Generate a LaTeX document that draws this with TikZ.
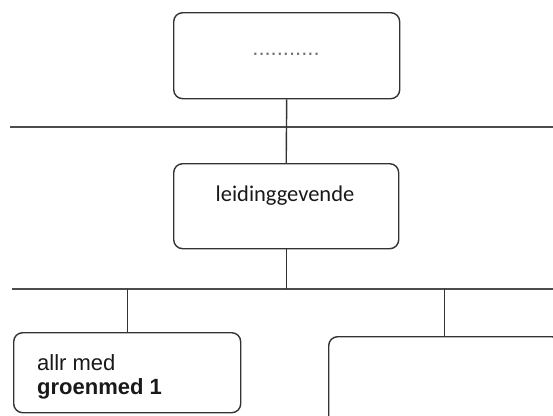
\documentclass[tikz,border=0pt]{standalone}
\usepackage{fontspec}
\setmainfont{Liberation Sans}
\newfontfamily\calib{Carlito}
\begin{document}
\begin{tikzpicture}[x=1pt,y=-1pt,
  box/.style={draw=black!80,line width=1.4pt,rounded corners=9pt,inner sep=0pt,anchor=north west},
  hline/.style={draw=black!70,line width=1.2pt},
  conn/.style={draw=black!80,line width=1.4pt},
  txt/.style={inner sep=0pt,text=black!90}]
\useasboundingbox (0,0) rectangle (553,415);
% boxes
\node[box,minimum width=226pt,minimum height=86pt] (top) at (173,12) {};
\node[box,minimum width=225pt,minimum height=85pt] (mid) at (173,163) {};
\node[box,minimum width=227pt,minimum height=80pt] (left) at (13,332) {};
\node[box,minimum width=232pt,minimum height=100pt] (right) at (328,336) {};
% texts
\node[txt,anchor=base,text=black!55,font=\fontsize{22}{26}\selectfont] (dots) at (286,55) {...........};
\node[txt,anchor=base,font=\calib\fontsize{22.5}{27}\selectfont] (lead) at (285,201) {leidinggevende};
\node[txt,anchor=base west,font=\fontsize{22}{26}\selectfont] (a1) at (37,370) {allr med};
\node[txt,anchor=base west,font=\bfseries\fontsize{22}{26}\selectfont] (a2) at (37,394) {groenmed 1};
% horizontal lines
\coordinate (l1a) at (10,127);
\coordinate (l1b) at (553,127);
\coordinate (l2a) at (12,289);
\coordinate (l2b) at (553,289);
\draw[hline] (l1a) -- (l1b);
\draw[hline] (l2a) -- (l2b);
% connectors
\draw[conn] (top.south) -- (mid.north);
\draw[conn] (mid.south) -- (mid.south |- l2a);
\draw[conn] (left.north |- l2a) -- (left.north);
\draw[conn] (right.north |- l2a) -- (right.north);
\end{tikzpicture}
\end{document}
